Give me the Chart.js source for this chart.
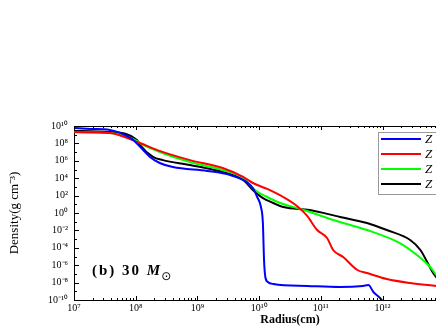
<!DOCTYPE html>
<html>
<head>
<meta charset="utf-8">
<script src="https://cdn.jsdelivr.net/npm/chart.js@4"></script>
<style>
  body { margin: 0; width: 436px; height: 327px; overflow: hidden; background: #fff; }
</style>
</head>
<body>
<canvas id="chart" width="520" height="327"></canvas>
<script>
// series (radius in cm, density in g cm^-3)
const seriesLabels = ['Z = 0', 'Z = 10\u207B\u2074 Z\u2299', 'Z = 0.1 Z\u2299', 'Z = Z\u2299'];
const seriesColors = ['#0000ff', '#ff0000', '#00ff00', '#000000'];

const blueR = [1e7, 1.82e7, 3.8e7, 5.6e7, 9.1e7, 1.32e8, 1.7e8, 2.45e8, 4.0e8, 1.45e9, 3.4e9, 6.3e9, 7.9e9, 9.3e9,
  1.07e10, 1.15e10, 1.2e10, 1.26e10, 1.38e10, 1.7e10, 6.0e10, 2.04e11, 4.8e11, 5.9e11, 7.1e11, 9.1e11, 1.02e12];
const blueRho = [5.9e9, 4.6e9, 3.5e9, 1.6e9, 2.5e8, 1.7e7, 2.8e6, 5.6e5, 1.9e5, 6.8e4, 2.3e4, 3.6e3, 7.4e2, 69,
  4.9, 7.1e-2, 4e-6, 4.4e-8, 1.2e-8, 6.9e-9, 4.1e-9, 3.1e-9, 4.1e-9, 5.2e-9, 8.3e-10, 1.7e-10, 6.3e-11];

const redR = [1e7, 3.8e7, 1.17e8, 2.24e8, 7.6e8, 2.57e9, 5.5e9, 7.9e9, 1.35e10, 2.45e10, 4.1e10, 6.0e10, 8.7e10,
  1.26e11, 1.58e11, 2.3e11, 3.9e11, 5.6e11, 1.17e12, 2.8e12, 7.4e12];
const redRho = [2.0e9, 1.6e9, 1.1e8, 1.7e7, 1.2e6, 1.5e5, 1.4e4, 2.8e3, 5.8e2, 69, 6.3, 0.46, 1.1e-2,
  1.35e-3, 5.6e-5, 8.7e-6, 2.8e-7, 1.26e-7, 2.6e-8, 8.9e-9, 4.1e-9];

const greenR = [1e7, 3.8e7, 1.05e8, 1.17e8, 2.24e8, 7.6e8, 2.57e9, 5.5e9, 7.1e9, 8.5e9, 1.35e10, 2.2e10, 4.1e10,
  6.6e10, 1.58e11, 5.6e11, 1.9e12, 3.6e12, 5.9e12, 7.4e12];
const greenRho = [2.0e9, 1.6e9, 1.9e8, 1.1e8, 1.35e7, 7.2e5, 8.7e4, 1.05e4, 1.66e3, 4.4e2, 69, 14, 3.7,
  1.3, 0.16, 1.1e-2, 3.5e-4, 1.5e-5, 6.2e-7, 7.4e-8];

const blackR = [1e7, 3.8e7, 1.05e8, 1.17e8, 1.9e8, 2.75e8, 7.6e8, 2.57e9, 5.5e9, 7.9e9, 1.15e10, 1.7e10, 2.45e10,
  6.6e10, 2.04e11, 5.6e11, 1.17e12, 2.8e12, 4.1e12, 6.6e12, 8.5e12];
const blackRho = [2.7e9, 2.0e9, 2.5e8, 6.6e7, 2.8e6, 1.2e6, 3.3e5, 5.1e4, 6.2e3, 4.4e2, 52, 14, 4.9,
  2.2, 0.35, 7.1e-2, 1.1e-2, 7.9e-4, 5.6e-5, 1.26e-7, 1.2e-8];

const xDecades = [7, 8, 9, 10, 11, 12, 13, 14];
const yDecades = [-10, -8, -6, -4, -2, 0, 2, 4, 6, 8, 10];

const supMap = { '0': '\u2070', '1': '\u00B9', '2': '\u00B2', '3': '\u00B3', '4': '\u2074', '5': '\u2075',
  '6': '\u2076', '7': '\u2077', '8': '\u2078', '9': '\u2079', '-': '\u207B' };
function powLabel(v) {
  const e = Math.round(Math.log10(v));
  return '10' + String(e).split('').map(c => supMap[c]).join('');
}

function toPoints(xs, ys) {
  return xs.map((x, i) => ({ x: x, y: ys[i] }));
}

const serif = 'Liberation Serif';

// frame, inward ticks, legend box and annotation
const decorations = {
  id: 'decorations',
  afterDraw(chart) {
    const { ctx, chartArea: a, scales } = chart;
    const xs = scales.x, ys = scales.y;
    ctx.save();
    ctx.strokeStyle = '#000';
    ctx.lineWidth = 1;
    ctx.beginPath();
    ctx.moveTo(a.left, a.top + 0.5); ctx.lineTo(a.right, a.top + 0.5);
    ctx.moveTo(a.right - 0.5, a.top); ctx.lineTo(a.right - 0.5, a.bottom);
    // x ticks bottom + top
    for (let d = 7; d < 14; d++) {
      for (let m = 1; m <= 9; m++) {
        const px = Math.round(xs.getPixelForValue(m * Math.pow(10, d))) + 0.5;
        const len = m === 1 ? 4 : 2;
        ctx.moveTo(px, a.bottom); ctx.lineTo(px, a.bottom - len);
        ctx.moveTo(px, a.top); ctx.lineTo(px, a.top + len);
      }
    }
    // y ticks
    for (let d = -10; d <= 10; d++) {
      const py = Math.round(ys.getPixelForValue(Math.pow(10, d))) + 0.5;
      const len = d % 2 === 0 ? 5 : 3;
      ctx.moveTo(a.left, py); ctx.lineTo(a.left + len, py);
    }
    ctx.stroke();

    // legend
    const lx = 378, ly = 132;
    ctx.fillStyle = '#fff';
    ctx.fillRect(lx, ly, 130, 62);
    ctx.strokeStyle = '#999';
    ctx.strokeRect(lx + 0.5, ly + 0.5, 130, 62);
    chart.data.datasets.forEach((ds, i) => {
      const y = ly + 7 + i * 15;
      ctx.strokeStyle = ds.borderColor;
      ctx.lineWidth = 2;
      ctx.beginPath();
      ctx.moveTo(lx + 3, y); ctx.lineTo(lx + 43, y);
      ctx.stroke();
      ctx.fillStyle = '#000';
      ctx.font = 'italic 13px ' + serif;
      ctx.textBaseline = 'middle';
      ctx.fillText(ds.label, lx + 47, y + 1);
    });

    // annotation
    ctx.fillStyle = '#000';
    ctx.textBaseline = 'alphabetic';
    ctx.letterSpacing = '2px';
    ctx.font = 'bold 15px ' + serif;
    const t1 = '(b) 30 ';
    ctx.fillText(t1, 92, 275);
    const w1 = ctx.measureText(t1).width;
    ctx.letterSpacing = '0px';
    ctx.font = 'bold italic 15px ' + serif;
    ctx.fillText('M', 92 + w1, 275);
    const w2 = ctx.measureText('M').width;
    ctx.font = '12px DejaVu Sans';
    ctx.fillText('\u2299', 93 + w1 + w2, 280);
    ctx.restore();
  }
};

const ctx = document.getElementById('chart').getContext('2d');

const data = {
  datasets: [
    { label: seriesLabels[0], data: toPoints(blueR, blueRho), borderColor: seriesColors[0] },
    { label: seriesLabels[1], data: toPoints(redR, redRho), borderColor: seriesColors[1] },
    { label: seriesLabels[2], data: toPoints(greenR, greenRho), borderColor: seriesColors[2] },
    { label: seriesLabels[3], data: toPoints(blackR, blackRho), borderColor: seriesColors[3] }
  ]
};

const chartConfig = {
  type: 'line',
  data: data,
  plugins: [decorations],
  options: {
    responsive: false,
    animation: false,
    layout: { padding: { left: 0, right: 14, top: 126, bottom: 0 } },
    elements: {
      point: { radius: 0 },
      line: { borderWidth: 2, tension: 0.3, fill: false, cubicInterpolationMode: 'monotone' }
    },
    plugins: { legend: { display: false }, tooltip: { enabled: false } },
    scales: {
      x: {
        type: 'logarithmic',
        min: 1e7,
        max: 1e14,
        afterBuildTicks: s => { s.ticks = xDecades.map(d => ({ value: Math.pow(10, d) })); },
        afterFit: s => { s.height = 27; },
        grid: { drawOnChartArea: false, drawTicks: false },
        border: { color: '#000', width: 1 },
        ticks: {
          padding: 2,
          color: '#000',
          maxRotation: 0,
          autoSkip: false,
          font: { family: serif, size: 10 },
          callback: v => powLabel(v)
        },
        title: {
          display: true,
          text: 'Radius(cm)',
          color: '#000',
          font: { family: serif, size: 12, weight: 'bold' },
          padding: 0
        }
      },
      y: {
        type: 'logarithmic',
        min: 1e-10,
        max: 1e10,
        afterBuildTicks: s => { s.ticks = yDecades.map(d => ({ value: Math.pow(10, d) })); },
        afterFit: s => { s.width = 74; },
        grid: { drawOnChartArea: false, drawTicks: false },
        border: { color: '#000', width: 1 },
        ticks: {
          padding: 6,
          color: '#000',
          autoSkip: false,
          font: { family: serif, size: 10 },
          callback: v => powLabel(v)
        },
        title: {
          display: true,
          text: 'Density(g cm\u207B\u00B3)',
          color: '#000',
          font: { family: serif, size: 13 },
          padding: { top: 7, bottom: 0 }
        }
      }
    }
  }
};

const chart = new Chart(ctx, chartConfig);
</script>
</body>
</html>
